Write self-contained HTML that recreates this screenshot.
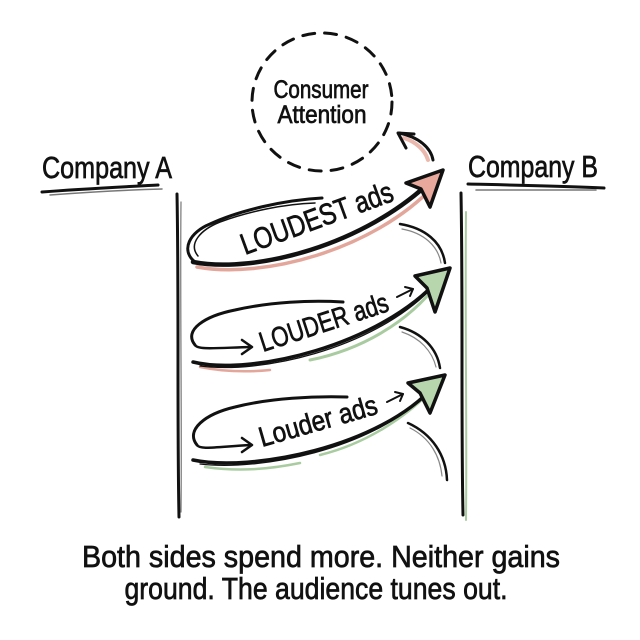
<!DOCTYPE html>
<html>
<head>
<meta charset="utf-8">
<style>
  html,body{margin:0;padding:0;background:#fff;}
  svg{display:block;}
  text{font-family:"Liberation Sans",sans-serif;fill:#111;stroke:#111;stroke-width:0.7;}
</style>
</head>
<body>
<svg width="640" height="640" viewBox="0 0 640 640" xmlns="http://www.w3.org/2000/svg">
  <rect width="640" height="640" fill="#fff"/>

  <!-- Consumer Attention circle -->
  <ellipse cx="322" cy="102" rx="70" ry="69" fill="none" stroke="#111" stroke-width="3" stroke-dasharray="12 10" stroke-linecap="round"/>
  <text x="321" y="98" font-size="25" text-anchor="middle" textLength="95" lengthAdjust="spacingAndGlyphs">Consumer</text>
  <text x="322" y="123" font-size="25" text-anchor="middle" textLength="89" lengthAdjust="spacingAndGlyphs">Attention</text>

  <!-- arrow back to circle -->
  <path d="M428,160 C425,150 416,142 404,138" fill="none" stroke="#ebb8ae" stroke-width="4" stroke-linecap="round"/>
  <path d="M433,160 C431,148 419,137 399,133" fill="none" stroke="#111" stroke-width="3" stroke-linecap="round"/>
  <path d="M414,134 L398,133 L406,148" fill="none" stroke="#111" stroke-width="3" stroke-linecap="round" stroke-linejoin="round"/>

  <!-- Company A -->
  <text x="42" y="178" font-size="31" textLength="130" lengthAdjust="spacingAndGlyphs">Company A</text>
  <path d="M42,192 C80,189 120,187 158,185" fill="none" stroke="#111" stroke-width="3" stroke-linecap="round"/>
  <path d="M50,195 C90,192 125,190 162,189" fill="none" stroke="#777" stroke-width="1.5" stroke-linecap="round"/>

  <!-- Company B -->
  <text x="468" y="177" font-size="31" textLength="130" lengthAdjust="spacingAndGlyphs">Company B</text>
  <path d="M468,184 C510,185 560,186 604,188" fill="none" stroke="#111" stroke-width="3" stroke-linecap="round"/>
  <path d="M476,190 C520,190 560,190 596,190" fill="none" stroke="#777" stroke-width="1.5" stroke-linecap="round"/>

  <!-- vertical lines -->
  <path d="M177,194 C179,300 177,420 179,517" fill="none" stroke="#111" stroke-width="3" stroke-linecap="round"/>
  <path d="M181,202 C180,300 182,420 181,512" fill="none" stroke="#777" stroke-width="1.2" stroke-linecap="round"/>
  <path d="M461,193 C463,300 461,420 463,515" fill="none" stroke="#111" stroke-width="3" stroke-linecap="round"/>
  <path d="M466,212 C465,320 467,430 466,520" fill="none" stroke="#a9cba0" stroke-width="2" stroke-linecap="round"/>

  <!-- ===== Loop 1 : LOUDEST ===== -->
  <path d="M400,224 C425,228 442,242 445,263" fill="none" stroke="#111" stroke-width="2.5" stroke-linecap="round"/>
  <path d="M402,229 C424,233 438,246 441,263" fill="none" stroke="#888" stroke-width="1.2" stroke-linecap="round"/>
  <path d="M195,262 C180,250 190,232 210,224 C240,210 285,200 322,198" fill="none" stroke="#111" stroke-width="3" stroke-linecap="round"/>
  <path d="M198,256 C188,244 200,230 220,222 C250,211 285,204 315,203" fill="none" stroke="#111" stroke-width="1.5" stroke-linecap="round"/>
  <path d="M197,267 C262,279 372,251 434,186" fill="none" stroke="#e3a69b" stroke-width="3.5" stroke-linecap="round"/>
  <path d="M193,262 C255,274 365,245 432,180" fill="none" stroke="#111" stroke-width="4.5" stroke-linecap="round"/>
  <path d="M443,170 L406,183 L421,189 L430,207 Z" fill="#e9a89c" stroke="#111" stroke-width="3.5" stroke-linejoin="round"/>
  <text x="245" y="255" font-size="30" transform="rotate(-20 245 255)" textLength="160" lengthAdjust="spacingAndGlyphs">LOUDEST ads</text>

  <!-- ===== Loop 2 : LOUDER ===== -->
  <path d="M400,327 C422,333 437,348 440,368" fill="none" stroke="#111" stroke-width="2.5" stroke-linecap="round"/>
  <path d="M402,332 C420,338 432,351 436,367" fill="none" stroke="#888" stroke-width="1.2" stroke-linecap="round"/>
  <path d="M195,345 C183,330 205,316 235,310 C270,302 310,300 343,302" fill="none" stroke="#111" stroke-width="3" stroke-linecap="round"/>
  <path d="M195,345 C198,350 215,348 251,347" fill="none" stroke="#111" stroke-width="2.5" stroke-linecap="round"/>
  <path d="M242,340 L252,347 L242,354" fill="none" stroke="#111" stroke-width="2.5" stroke-linecap="round" stroke-linejoin="round"/>
  <path d="M200,367 C225,372 250,372 270,370" fill="none" stroke="#e3a69b" stroke-width="2.5" stroke-linecap="round"/>
  <path d="M310,360 C360,350 408,323 438,283" fill="none" stroke="#a9cba0" stroke-width="3" stroke-linecap="round"/>
  <path d="M193,362 C250,376 380,346 440,278" fill="none" stroke="#111" stroke-width="3.5" stroke-linecap="round"/>
  <path d="M200,366 C260,374 370,350 430,290" fill="none" stroke="#111" stroke-width="1.3" stroke-linecap="round"/>
  <path d="M450,268 L415,276 L427,288 L435,312 Z" fill="#b8d6ae" stroke="#111" stroke-width="3.5" stroke-linejoin="round"/>
  <text x="263" y="352" font-size="28" transform="rotate(-18 263 352)" textLength="134" lengthAdjust="spacingAndGlyphs">LOUDER ads</text>
  <path d="M397,297 L413,289" fill="none" stroke="#111" stroke-width="2" stroke-linecap="round"/>
  <path d="M405,287 L413,289 L410,296" fill="none" stroke="#111" stroke-width="2" stroke-linecap="round" stroke-linejoin="round"/>

  <!-- ===== Loop 3 : Louder ===== -->
  <path d="M408,423 C432,434 446,455 447,480" fill="none" stroke="#111" stroke-width="2.5" stroke-linecap="round"/>
  <path d="M410,428 C430,438 440,456 442,476" fill="none" stroke="#888" stroke-width="1.2" stroke-linecap="round"/>
  <path d="M197,445 C185,430 205,414 235,407 C270,398 315,396 347,397" fill="none" stroke="#111" stroke-width="3" stroke-linecap="round"/>
  <path d="M197,445 C200,450 215,447 251,445" fill="none" stroke="#111" stroke-width="2.5" stroke-linecap="round"/>
  <path d="M242,438 L252,445 L242,452" fill="none" stroke="#111" stroke-width="2.5" stroke-linecap="round" stroke-linejoin="round"/>
  <path d="M205,467 C240,472 270,469 300,463" fill="none" stroke="#a9cba0" stroke-width="2.5" stroke-linecap="round"/>
  <path d="M320,455 C365,444 405,418 432,390" fill="none" stroke="#a9cba0" stroke-width="2.5" stroke-linecap="round"/>
  <path d="M193,460 C250,472 380,448 435,385" fill="none" stroke="#111" stroke-width="3.5" stroke-linecap="round"/>
  <path d="M200,464 C260,471 370,450 425,395" fill="none" stroke="#111" stroke-width="1.3" stroke-linecap="round"/>
  <path d="M445,375 L408,383 L420,393 L430,413 Z" fill="#b8d6ae" stroke="#111" stroke-width="3.5" stroke-linejoin="round"/>
  <text x="262" y="447" font-size="28" transform="rotate(-16 262 447)" textLength="122" lengthAdjust="spacingAndGlyphs">Louder ads</text>
  <path d="M387,402 L403,394" fill="none" stroke="#111" stroke-width="2" stroke-linecap="round"/>
  <path d="M395,392 L403,394 L400,401" fill="none" stroke="#111" stroke-width="2" stroke-linecap="round" stroke-linejoin="round"/>

  <!-- bottom caption -->
  <text x="321" y="567" font-size="31" text-anchor="middle" textLength="478" lengthAdjust="spacingAndGlyphs">Both sides spend more. Neither gains</text>
  <text x="316" y="599" font-size="31" text-anchor="middle" textLength="383" lengthAdjust="spacingAndGlyphs">ground. The audience tunes out.</text>
</svg>
</body>
</html>
